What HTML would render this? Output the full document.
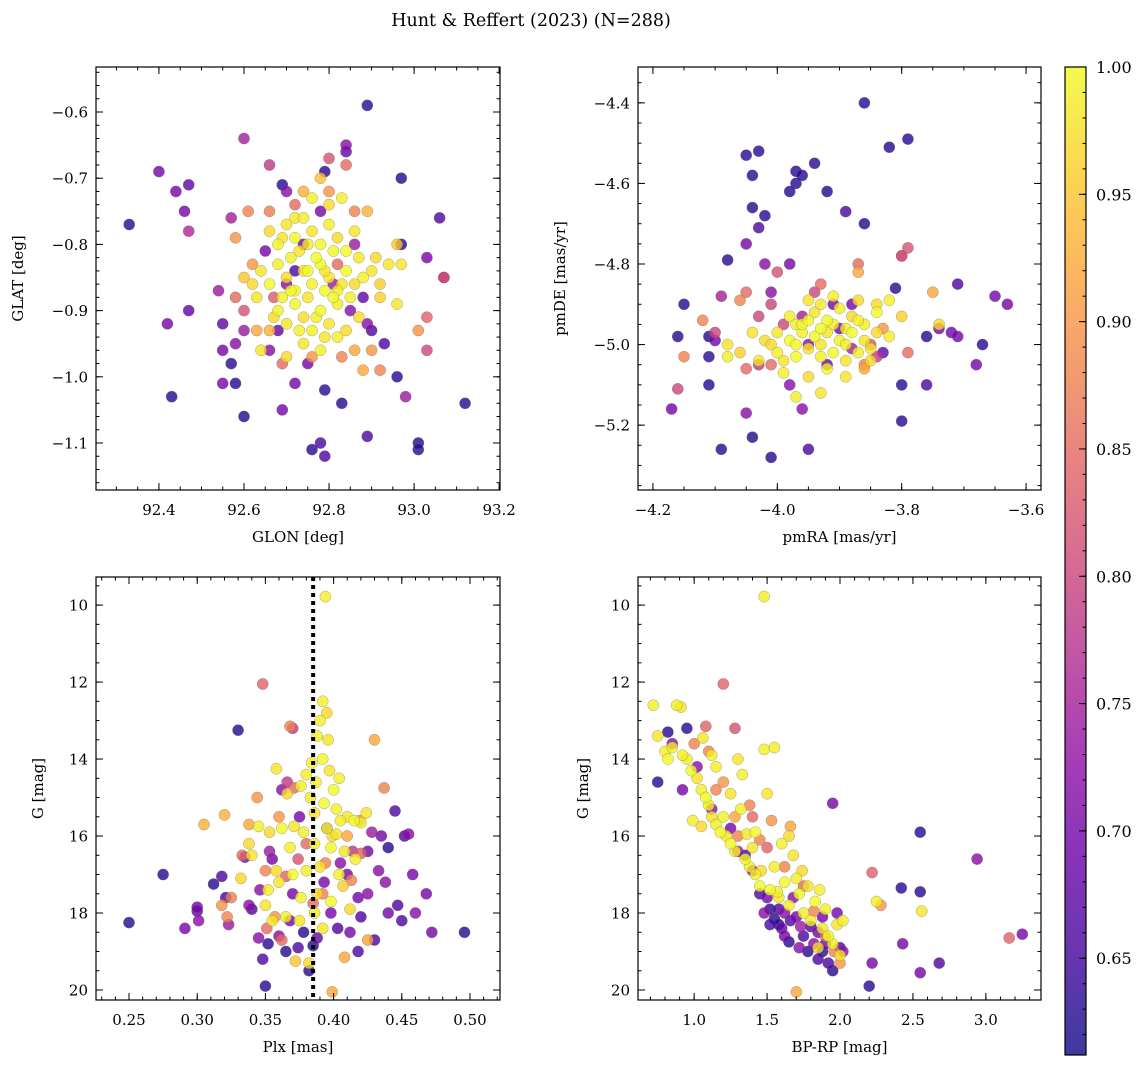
<!DOCTYPE html>
<html><head><meta charset="utf-8">
<style>
html,body{margin:0;padding:0;background:#fff;}
svg{display:block;font-family:"DejaVu Serif","Liberation Serif",serif;}
</style></head>
<body>
<svg id="fig" width="1148" height="1067" viewBox="0 0 1148 1067" xmlns="http://www.w3.org/2000/svg">
<rect width="1148" height="1067" fill="#fff"/>
<text x="531" y="26" font-size="17.5" text-anchor="middle">Hunt &amp; Reffert (2023) (N=288)</text>
<defs>
<linearGradient id="cbg" x1="0" y1="1" x2="0" y2="0">
<stop offset="0" stop-color="#0d0887"/><stop offset="0.1" stop-color="#41049d"/><stop offset="0.2" stop-color="#6a00a8"/><stop offset="0.3" stop-color="#8f0da4"/><stop offset="0.4" stop-color="#b12a90"/><stop offset="0.5" stop-color="#cc4778"/><stop offset="0.6" stop-color="#e16462"/><stop offset="0.7" stop-color="#f2844b"/><stop offset="0.8" stop-color="#fca636"/><stop offset="0.9" stop-color="#fcce25"/><stop offset="1" stop-color="#f0f921"/>
</linearGradient>
</defs>
</svg>
<script>
// ---- data: [x, y, membership probability] ----
const glonGlat = [
[92.33,-0.77,0.63],[92.40,-0.69,0.70],[92.44,-0.72,0.70],[92.46,-0.75,0.70],[92.47,-0.71,0.68],[92.47,-0.78,0.76],[92.42,-0.92,0.70],[92.47,-0.90,0.68],[92.43,-1.03,0.63],[92.54,-0.87,0.74],[92.57,-0.76,0.75],[92.55,-0.92,0.68],[92.55,-0.96,0.70],[92.55,-1.01,0.70],[92.57,-0.98,0.63],[92.58,-1.01,0.63],[92.58,-0.95,0.72],[92.60,-0.64,0.75],[92.60,-1.06,0.63],[92.60,-0.93,0.74],[92.66,-0.68,0.78],[92.69,-0.71,0.63],[92.69,-1.05,0.70],[92.72,-1.01,0.70],[92.76,-1.11,0.63],[92.78,-1.10,0.66],[92.79,-1.12,0.66],[92.79,-1.02,0.63],[92.83,-1.04,0.63],[92.84,-0.65,0.72],[92.84,-0.66,0.68],[92.79,-0.69,0.63],[92.89,-0.59,0.63],[92.97,-0.70,0.63],[92.97,-0.80,0.63],[92.96,-1.00,0.63],[92.98,-1.03,0.74],[92.89,-1.09,0.66],[93.01,-1.10,0.63],[93.01,-1.11,0.63],[93.06,-0.76,0.66],[93.03,-0.82,0.70],[93.07,-0.85,0.70],[93.07,-0.85,0.82],[93.03,-0.91,0.84],[93.03,-0.96,0.80],[93.01,-0.93,0.90],[93.12,-1.04,0.63],[92.96,-0.89,0.98],[92.97,-0.83,0.98],[92.92,-0.88,0.96],[92.90,-0.93,0.66],[92.93,-0.95,0.66],[92.88,-0.99,0.92],[92.89,-0.75,0.93],[92.80,-0.72,0.90],
[92.66,-0.78,0.97],[92.68,-0.80,0.99],[92.70,-0.77,0.98],[92.72,-0.79,1.0],[92.74,-0.76,0.99],[92.76,-0.78,0.98],[92.78,-0.80,1.0],[92.80,-0.77,0.99],[92.82,-0.79,0.97],[92.84,-0.81,1.0],[92.86,-0.78,0.98],[92.76,-0.73,0.99],[92.80,-0.74,0.97],[92.83,-0.73,0.99],[92.78,-0.70,0.95],[92.74,-0.72,0.93],
[92.64,-0.84,0.98],[92.66,-0.86,1.0],[92.68,-0.83,0.99],[92.70,-0.85,0.97],[92.72,-0.87,1.0],[92.74,-0.84,0.98],[92.76,-0.86,0.99],[92.78,-0.83,1.0],[92.80,-0.85,0.98],[92.82,-0.87,0.99],[92.84,-0.84,1.0],[92.86,-0.86,0.97],[92.88,-0.85,0.99],[92.90,-0.84,0.98],[92.92,-0.86,0.96],[92.62,-0.86,0.97],[92.60,-0.85,0.95],
[92.68,-0.90,0.99],[92.70,-0.92,0.98],[92.72,-0.89,1.0],[92.74,-0.91,0.97],[92.76,-0.93,0.99],[92.78,-0.90,1.0],[92.80,-0.92,0.98],[92.82,-0.89,0.99],[92.84,-0.93,0.97],[92.74,-0.95,0.98],[92.78,-0.96,0.99],[92.70,-0.97,0.97],[92.66,-0.93,0.93],[92.64,-0.96,0.98],[92.82,-0.94,0.99],
[92.73,-0.81,0.98],[92.77,-0.82,1.0],[92.69,-0.88,0.99],[92.81,-0.88,1.0],[92.75,-0.88,0.98],[92.79,-0.87,1.0],[92.71,-0.82,0.99],[92.87,-0.82,0.98],[92.91,-0.82,0.97],[92.94,-0.83,0.98],[92.96,-0.80,0.95],
[92.75,-0.80,0.99],[92.79,-0.84,0.98],[92.71,-0.87,1.0],[92.77,-0.91,0.99],[92.83,-0.86,0.98],[92.73,-0.93,0.99],[92.81,-0.81,1.0],[92.69,-0.79,0.98],[92.85,-0.88,0.99],[92.67,-0.91,0.97],[92.79,-0.94,0.98],[92.87,-0.91,0.97],[92.75,-0.84,1.0],[92.72,-0.76,0.98],[92.63,-0.88,0.98],
[92.58,-0.79,0.90],[92.61,-0.75,0.88],[92.66,-0.75,0.87],[92.62,-0.83,0.90],[92.63,-0.93,0.92],[92.58,-0.88,0.85],[92.60,-0.90,0.82],[92.72,-0.74,0.85],[92.80,-0.67,0.82],[92.84,-0.68,0.85],[92.86,-0.75,0.88],[92.69,-0.98,0.85],[92.76,-0.97,0.90],[92.83,-0.97,0.88],[92.86,-0.96,0.92],[92.90,-0.96,0.90],[92.67,-0.88,0.83],[92.82,-0.83,0.85],[92.92,-0.99,0.88],
[92.70,-0.86,0.72],[92.74,-0.80,0.70],[92.78,-0.75,0.70],[92.81,-0.86,0.74],[92.85,-0.90,0.72],[92.68,-0.93,0.68],[92.75,-0.98,0.70],[92.86,-0.80,0.74],[92.65,-0.81,0.70],[92.70,-0.72,0.72],[92.66,-0.96,0.72],[92.88,-0.88,0.68],[92.89,-0.92,0.72],[92.72,-0.84,0.66]
];
const pmraPmde = [
[-3.86,-4.40,0.63],[-3.79,-4.49,0.63],[-3.82,-4.51,0.63],[-4.05,-4.53,0.63],[-4.03,-4.52,0.63],[-4.04,-4.58,0.63],[-3.97,-4.57,0.63],[-3.97,-4.60,0.63],[-3.98,-4.62,0.63],[-3.96,-4.58,0.63],[-3.94,-4.55,0.63],[-3.92,-4.62,0.63],[-3.89,-4.67,0.66],[-3.86,-4.70,0.63],[-4.04,-4.66,0.63],[-4.02,-4.68,0.63],[-4.03,-4.71,0.66],[-4.05,-4.75,0.70],[-4.08,-4.79,0.63],[-4.15,-4.90,0.63],[-4.16,-4.98,0.63],[-4.17,-5.16,0.70],[-4.16,-5.11,0.80],[-4.11,-4.98,0.63],[-4.11,-5.03,0.63],[-4.09,-5.26,0.63],[-4.11,-5.10,0.63],[-4.04,-5.23,0.63],[-4.01,-5.28,0.63],[-3.95,-5.26,0.66],[-3.96,-5.16,0.72],[-4.03,-5.05,0.78],[-4.05,-5.17,0.72],[-3.80,-5.19,0.63],[-3.80,-5.10,0.63],[-3.76,-5.10,0.66],[-3.76,-4.98,0.63],[-3.74,-4.96,0.70],[-3.72,-4.97,0.70],[-3.71,-4.98,0.70],[-3.68,-5.05,0.70],[-3.67,-5.00,0.63],[-3.65,-4.88,0.70],[-3.63,-4.90,0.70],[-3.71,-4.85,0.66],[-3.81,-4.86,0.63],[-3.75,-4.87,0.92],[-3.79,-4.76,0.82],[-3.80,-4.78,0.82],[-3.80,-4.78,0.80],[-3.87,-4.80,0.85],[-3.87,-4.82,0.92],[-3.84,-5.03,0.78],[-3.79,-5.02,0.85],[-3.83,-4.96,0.90],[-4.15,-5.03,0.88],[-4.12,-4.94,0.88],[-4.10,-4.97,0.80],[-4.10,-4.99,0.70],[-4.06,-4.89,0.88],[-4.05,-4.87,0.85],[-4.09,-4.88,0.75],[-4.02,-4.80,0.72],[-4.01,-4.87,0.72],[-4.00,-4.82,0.82],[-3.98,-4.80,0.70],[-3.93,-4.85,0.85],[-3.88,-4.90,0.70],[-4.01,-4.90,0.80],
[-3.98,-4.93,0.99],[-3.96,-4.95,1.0],[-3.94,-4.92,0.98],[-3.92,-4.94,1.0],[-3.90,-4.91,0.99],[-3.88,-4.93,0.97],[-3.86,-4.95,0.99],[-3.84,-4.92,1.0],[-3.95,-4.89,0.98],[-3.91,-4.88,0.99],[-3.87,-4.89,0.97],
[-4.00,-4.97,0.98],[-3.98,-4.99,1.0],[-3.96,-4.97,0.99],[-3.94,-4.98,1.0],[-3.92,-4.97,0.98],[-3.90,-4.99,0.99],[-3.88,-4.97,1.0],[-3.86,-4.99,0.98],[-3.84,-4.97,0.97],[-3.82,-4.98,0.99],[-4.02,-4.99,0.97],[-4.04,-4.97,0.98],
[-4.00,-5.02,0.99],[-3.97,-5.03,1.0],[-3.95,-5.01,0.98],[-3.93,-5.03,0.99],[-3.91,-5.02,1.0],[-3.89,-5.04,0.98],[-3.87,-5.02,0.99],[-3.85,-5.04,0.97],[-4.03,-5.04,0.98],[-4.06,-5.02,0.96],[-4.08,-5.00,0.98],
[-3.99,-5.07,0.99],[-3.95,-5.08,0.97],[-3.92,-5.06,1.0],[-3.89,-5.08,0.98],[-3.93,-5.12,0.98],[-3.97,-5.13,0.99],[-3.84,-4.90,0.97],[-3.80,-4.93,0.96],[-3.86,-5.06,0.92],
[-4.08,-5.03,0.99],[-3.74,-4.95,0.97],[-3.82,-4.89,0.99],[-3.93,-4.96,1.0],[-3.97,-4.95,0.99],[-3.89,-4.96,0.99],
[-3.95,-4.94,1.0],[-3.91,-4.95,0.99],[-3.93,-5.00,0.98],[-3.97,-5.00,1.0],[-3.89,-5.00,0.99],[-3.99,-5.04,0.98],[-3.87,-4.94,0.99],[-3.93,-4.90,0.98],[-4.01,-5.00,0.97],[-3.85,-5.01,0.98],
[-3.99,-4.95,0.80],[-3.95,-5.00,0.72],[-3.90,-4.96,0.70],[-3.96,-4.93,0.75],[-3.85,-5.00,0.82],[-3.92,-5.05,0.70],[-4.01,-5.05,0.85],[-3.88,-5.01,0.75],[-3.91,-4.90,0.70],[-4.03,-4.93,0.80],[-3.86,-5.05,0.88],[-3.98,-5.10,0.72],[-4.05,-5.06,0.85],[-3.83,-5.02,0.68],[-3.94,-4.87,0.80]
];
const plxG = [
[0.250,18.25,0.63],[0.275,17.0,0.63],[0.291,18.4,0.70],[0.300,17.85,0.70],[0.300,17.95,0.68],[0.301,18.2,0.72],[0.312,17.25,0.63],[0.318,17.05,0.66],[0.321,17.6,0.66],[0.330,13.25,0.63],[0.323,18.3,0.74],[0.335,16.55,0.70],[0.340,17.9,0.66],[0.345,18.65,0.72],[0.348,19.2,0.66],[0.350,19.9,0.63],[0.352,18.8,0.63],[0.355,16.6,0.70],[0.360,18.6,0.72],[0.365,19.0,0.63],[0.368,18.2,0.70],[0.370,17.5,0.70],[0.374,18.9,0.66],[0.378,18.5,0.63],[0.382,19.5,0.63],[0.385,18.85,0.63],[0.388,18.65,0.68],[0.393,17.2,0.70],[0.398,18.0,0.70],[0.403,18.4,0.66],[0.410,17.0,0.70],[0.412,18.5,0.70],[0.418,17.6,0.70],[0.420,18.1,0.66],[0.425,17.5,0.72],[0.430,18.7,0.66],[0.435,16.0,0.70],[0.438,17.2,0.72],[0.440,18.0,0.70],[0.445,15.35,0.66],[0.447,17.8,0.66],[0.450,18.2,0.66],[0.452,16.0,0.66],[0.455,15.95,0.72],[0.458,17.0,0.70],[0.460,18.0,0.72],[0.468,17.5,0.70],[0.472,18.5,0.70],[0.496,18.5,0.63],[0.440,16.3,0.63],[0.425,16.4,0.70],[0.414,16.4,0.78],[0.405,16.7,0.72],[0.395,15.8,0.74],[0.375,15.5,0.70],[0.362,14.8,0.72],[0.353,16.4,0.74],[0.346,17.4,0.72],[0.338,17.8,0.72],[0.370,13.2,0.78],[0.366,14.6,0.78],[0.428,15.9,0.74],[0.433,16.9,0.72],[0.418,19.0,0.66],
[0.348,12.05,0.84],[0.305,15.7,0.93],[0.320,15.45,0.93],[0.325,17.6,0.88],[0.318,17.8,0.90],[0.322,18.1,0.88],[0.333,16.5,0.85],[0.338,15.7,0.92],[0.344,15.0,0.90],[0.351,18.4,0.85],[0.357,18.1,0.90],[0.362,18.7,0.85],[0.365,17.05,0.84],[0.368,13.15,0.88],[0.371,14.75,0.85],[0.380,16.2,0.85],[0.392,17.5,0.88],[0.399,20.05,0.92],[0.408,19.15,0.92],[0.413,17.15,0.88],[0.420,16.45,0.84],[0.425,18.7,0.92],[0.430,13.5,0.92],[0.437,14.75,0.88],[0.419,15.6,0.90],[0.410,16.0,0.92],[0.360,15.5,0.90],[0.350,16.9,0.88],[0.385,17.75,0.85],[0.374,16.6,0.82],[0.394,16.7,0.88],
[0.394,9.78,0.99],[0.392,12.5,0.99],[0.395,12.8,0.97],[0.388,13.4,0.99],[0.396,13.5,0.98],[0.392,14.0,1.0],[0.384,14.1,0.99],[0.397,14.3,0.98],[0.387,14.6,0.99],[0.400,14.8,1.0],[0.358,14.25,0.98],[0.376,14.7,0.99],[0.383,15.0,0.98],[0.393,15.15,1.0],[0.402,15.3,0.99],[0.410,15.5,0.98],[0.415,15.6,1.0],[0.420,15.65,0.99],[0.424,15.4,0.98],[0.405,15.6,0.99],[0.395,15.8,1.0],[0.378,15.9,0.99],[0.371,15.75,0.98],[0.362,15.8,1.0],[0.353,15.9,0.97],[0.345,15.75,0.99],[0.386,16.2,0.99],[0.398,16.3,1.0],[0.408,16.4,0.98],[0.416,16.6,0.99],[0.390,16.8,0.98],[0.380,16.9,0.99],[0.370,17.0,1.0],[0.360,17.2,0.98],[0.352,17.4,0.99],[0.340,16.5,0.98],[0.376,17.6,0.99],[0.388,17.5,0.97],[0.398,17.7,1.0],[0.350,17.8,0.98],[0.365,18.1,0.99],[0.375,18.2,0.98],[0.386,18.0,0.99],[0.355,18.2,0.98],[0.332,17.1,0.97],[0.338,16.2,0.97],[0.402,15.95,0.98],[0.407,17.3,0.96],[0.412,17.9,0.97],[0.372,19.25,0.95],[0.382,19.3,0.97],[0.366,14.9,0.97],[0.380,14.4,0.99],[0.404,14.5,0.99],[0.399,16.0,0.97],
[0.390,13.0,0.99],[0.386,15.4,0.98],[0.368,16.3,0.99],[0.392,18.4,0.98],[0.358,16.9,0.97],[0.404,17.0,0.99]
];
const bprpG = [
[0.72,12.6,0.99],[0.75,13.4,0.98],[0.80,13.8,0.99],[0.82,14.0,1.0],[0.85,13.7,0.99],[0.88,12.6,0.99],[0.91,12.65,0.98],[0.95,14.0,0.99],[0.98,14.3,1.0],[0.99,15.6,0.99],[1.02,14.5,0.98],[1.05,14.8,0.99],[1.08,15.0,1.0],[1.10,15.2,0.99],[1.12,15.5,0.98],[1.15,15.7,0.99],[1.18,15.9,1.0],[1.20,15.5,0.99],[1.22,16.0,0.98],[1.25,16.2,1.0],[1.28,16.4,0.99],[1.30,14.0,0.98],[1.33,14.4,0.99],[1.35,16.6,1.0],[1.38,16.8,0.99],[1.40,16.3,0.98],[1.42,17.0,0.99],[1.45,17.3,1.0],[1.48,13.75,0.99],[1.50,14.9,0.98],[1.52,17.4,1.0],[1.55,13.7,0.99],[1.58,17.6,0.98],[1.60,16.2,0.99],[1.62,17.2,1.0],[1.65,17.8,0.99],[1.68,16.5,0.98],[1.70,17.1,0.99],[1.72,17.5,1.0],[1.75,18.0,0.99],[1.78,17.3,0.98],[1.80,18.2,0.99],[1.83,17.7,1.0],[1.86,17.4,0.99],[1.88,18.4,0.98],[1.90,17.9,0.99],[1.92,18.6,1.0],[1.95,18.8,0.99],[1.98,18.3,0.98],[2.02,18.2,0.99],[2.00,19.1,0.98],[2.25,17.7,0.99],[2.56,17.95,0.98],[1.48,9.78,0.99],[1.05,15.75,0.97],[1.15,14.2,0.99],[1.25,14.9,0.98],[1.32,15.3,0.99],[1.42,15.9,1.0],[1.55,16.8,0.99],[1.65,16.0,0.97],[1.36,15.95,0.98],[1.06,13.45,0.98],[1.12,13.9,0.99],[0.92,13.9,0.99],[1.46,16.9,0.97],[1.57,17.45,0.99],[1.74,16.9,0.97],[1.85,18.9,0.97],
[1.20,12.05,0.84],[1.08,13.15,0.84],[1.10,13.8,0.88],[1.28,13.2,0.82],[1.00,13.6,0.88],[1.15,14.8,0.88],[1.20,14.6,0.90],[1.28,15.5,0.92],[1.40,15.5,0.85],[1.45,16.1,0.88],[1.53,15.6,0.90],[1.62,16.8,0.88],[1.66,15.75,0.92],[1.75,17.3,0.85],[1.82,17.95,0.88],[1.90,18.6,0.85],[1.96,19.0,0.88],[2.00,19.3,0.90],[2.22,16.95,0.84],[2.28,17.8,0.90],[3.16,18.65,0.84],[1.70,20.05,0.92],[1.38,15.2,0.88],[1.50,16.3,0.84],[1.30,16.0,0.88],
[0.75,14.6,0.63],[0.82,13.3,0.63],[0.85,13.6,0.72],[0.95,13.2,0.63],[0.92,14.8,0.70],[1.02,14.2,0.72],[1.12,15.3,0.72],[1.25,15.8,0.70],[1.35,16.5,0.66],[1.45,17.5,0.66],[1.52,17.9,0.63],[1.55,18.15,0.63],[1.60,18.4,0.68],[1.65,18.75,0.63],[1.70,18.1,0.70],[1.75,18.6,0.66],[1.78,19.0,0.63],[1.85,18.5,0.70],[1.88,19.0,0.63],[1.92,19.3,0.66],[1.95,19.5,0.63],[2.00,18.9,0.66],[1.98,18.0,0.70],[1.82,18.8,0.72],[1.68,17.6,0.72],[1.58,17.9,0.66],[1.48,18.0,0.72],[1.95,15.15,0.70],[2.20,19.9,0.63],[2.22,19.3,0.70],[2.43,18.8,0.70],[2.42,17.35,0.63],[2.55,17.45,0.63],[2.55,15.9,0.63],[2.55,19.55,0.70],[2.68,19.3,0.66],[2.94,16.6,0.72],[3.25,18.55,0.70],[1.40,16.9,0.72],[1.62,18.0,0.72],[1.73,18.35,0.74],[1.88,18.1,0.70],[1.30,16.4,0.74],
[1.50,17.6,0.70],[1.58,18.3,0.63],[1.66,18.2,0.66],[1.72,18.9,0.72],[1.80,18.35,0.66],[1.90,18.8,0.70],[1.52,18.3,0.66],[1.62,18.6,0.70],[1.85,19.2,0.66],[2.02,19.0,0.72]
];
const plxCut = [0.385];
const cbTicks = [0.65,0.70,0.75,0.80,0.85,0.90,0.95,1.00];
const pRange = [0.612, 1.0];

const NS = "http://www.w3.org/2000/svg";
const svg = document.getElementById('fig');
function mk(tag, attrs, parent){const e=document.createElementNS(NS,tag);for(const k in attrs)e.setAttribute(k,attrs[k]);(parent||svg).appendChild(e);return e;}

const stops=[[13,8,135],[65,4,157],[106,0,168],[143,13,164],[177,42,144],[204,71,120],[225,100,98],[242,132,75],[252,166,54],[252,206,37],[240,249,33]];
function plasma(t){t=Math.max(0,Math.min(1,t));const f=t*10,i=Math.min(9,Math.floor(f)),u=f-i;const a=stops[i],b=stops[i+1];return 'rgb('+a.map((v,k)=>Math.round(v+(b[k]-v)*u)).join(',')+')';}
function fmt(v,d){return (v<0?'\u2212':'')+Math.abs(v).toFixed(d);}

function panel(cfg){
  const g=mk('g',{});
  
  
  const sx=v=>cfg.x0+(v-cfg.xmin)/(cfg.xmax-cfg.xmin)*(cfg.x1-cfg.x0);
  const sy=v=>cfg.y0+(v-cfg.ytop)/(cfg.ybot-cfg.ytop)*(cfg.y1-cfg.y0);
  const pts=cfg.data.slice().sort((a,b)=>a[2]-b[2]);
  const pg=mk('g',{},g);
  
  
  pts.forEach(d=>{
    const c=mk('circle',{cx:sx(d[0]).toFixed(1),cy:sy(d[1]).toFixed(1),r:5.6,fill:plasma((d[2]-pRange[0])/(pRange[1]-pRange[0])),'fill-opacity':0.8,stroke:'#666','stroke-width':0.4,'stroke-opacity':0.7},pg);
    
    
  });
  if(cfg.vline){
    const l=mk('line',{x1:sx(cfg.vline),x2:sx(cfg.vline),y1:cfg.y0,y2:cfg.y1,stroke:'#000','stroke-width':4,'stroke-dasharray':'4 4'},g);
    
    
  }
  const tg=mk('g',{stroke:'#000','stroke-width':1},g);
  function eachTick(min,max,step,fn){const n0=Math.ceil(min/step-1e-6),n1=Math.floor(max/step+1e-6);for(let n=n0;n<=n1;n++)fn(+(n*step).toFixed(6));}
  const lo=Math.min(cfg.ytop,cfg.ybot),hi=Math.max(cfg.ytop,cfg.ybot);
  eachTick(cfg.xmin,cfg.xmax,cfg.xminor,v=>{const x=sx(v);mk('line',{x1:x,x2:x,y1:cfg.y1,y2:cfg.y1-3.5},tg);mk('line',{x1:x,x2:x,y1:cfg.y0,y2:cfg.y0+3.5},tg);});
  eachTick(lo,hi,cfg.yminor,v=>{const y=sy(v);mk('line',{x1:cfg.x0,x2:cfg.x0+3.5,y1:y,y2:y},tg);mk('line',{x1:cfg.x1,x2:cfg.x1-3.5,y1:y,y2:y},tg);});
  eachTick(cfg.xmin,cfg.xmax,cfg.xmajor,v=>{const x=sx(v);mk('line',{x1:x,x2:x,y1:cfg.y1,y2:cfg.y1-7},tg);mk('line',{x1:x,x2:x,y1:cfg.y0,y2:cfg.y0+7},tg);
    const t=mk('text',{x:x,y:cfg.y1+25,'font-size':15,'text-anchor':'middle'},g);t.textContent=fmt(v,cfg.xdec);
    
    });
  eachTick(lo,hi,cfg.ymajor,v=>{const y=sy(v);mk('line',{x1:cfg.x0,x2:cfg.x0+7,y1:y,y2:y},tg);mk('line',{x1:cfg.x1,x2:cfg.x1-7,y1:y,y2:y},tg);
    const t=mk('text',{x:cfg.x0-8,y:y+5.5,'font-size':15,'text-anchor':'end'},g);t.textContent=fmt(v,cfg.ydec);
    
    });
  const fr=mk('rect',{x:cfg.x0,y:cfg.y0,width:cfg.x1-cfg.x0,height:cfg.y1-cfg.y0,fill:'none',stroke:'#000','stroke-width':1.2},g);
  
  
  const xl=mk('text',{x:(cfg.x0+cfg.x1)/2,y:cfg.y1+52,'font-size':15,'text-anchor':'middle'},g);xl.textContent=cfg.xlabel;
  
  
  const yx=cfg.ylabx, yy=(cfg.y0+cfg.y1)/2;
  const yl=mk('text',{x:yx,y:yy,'font-size':15,'text-anchor':'middle',transform:'rotate(-90 '+yx+' '+yy+')'},g);yl.textContent=cfg.ylabel;
  
  
}

panel({name:'glon-glat-panel',data:glonGlat,x0:96,x1:500,y0:67,y1:490,xmin:92.252,xmax:93.202,ytop:-0.532,ybot:-1.171,xmajor:0.2,xminor:0.05,ymajor:0.1,yminor:0.02,xdec:1,ydec:1,xlabel:'GLON [deg]',ylabel:'GLAT [deg]',ylabx:23});
panel({name:'pm-panel',data:pmraPmde,x0:638,x1:1041,y0:67,y1:490,xmin:-4.224,xmax:-3.576,ytop:-4.311,ybot:-5.361,xmajor:0.2,xminor:0.05,ymajor:0.2,yminor:0.05,xdec:1,ydec:1,xlabel:'pmRA [mas/yr]',ylabel:'pmDE [mas/yr]',ylabx:565});
panel({name:'plx-g-panel',data:plxG,vline:plxCut[0],x0:96,x1:500,y0:577,y1:1000,xmin:0.2258,xmax:0.522,ytop:9.27,ybot:20.26,xmajor:0.05,xminor:0.01,ymajor:2,yminor:0.5,xdec:2,ydec:0,xlabel:'Plx [mas]',ylabel:'G [mag]',ylabx:43});
panel({name:'cmd-panel',data:bprpG,x0:638,x1:1041,y0:577,y1:1000,xmin:0.615,xmax:3.378,ytop:9.27,ybot:20.26,xmajor:0.5,xminor:0.1,ymajor:2,yminor:0.5,xdec:1,ydec:0,xlabel:'BP-RP [mag]',ylabel:'G [mag]',ylabx:588});

const cb=mk('g',{});


const cx0=1065,cx1=1086,cy0=67,cy1=1055;
const cs=v=>cy1-(v-pRange[0])/(pRange[1]-pRange[0])*(cy1-cy0);
mk('rect',{x:cx0,y:cy0,width:cx1-cx0,height:cy1-cy0,fill:'url(#cbg)','fill-opacity':0.8},cb);
for(let v=0.62;v<1.0001;v+=0.01){const y=cs(v);mk('line',{x1:cx1,x2:cx1-3.5,y1:y,y2:y,stroke:'#000'},cb);}
cbTicks.forEach(v=>{const y=cs(v);mk('line',{x1:cx1,x2:cx1-7,y1:y,y2:y,stroke:'#000'},cb);
  const t=mk('text',{x:cx1+10,y:y+6,'font-size':16},cb);t.textContent=v.toFixed(2);
  
  });
mk('rect',{x:cx0,y:cy0,width:cx1-cx0,height:cy1-cy0,fill:'none',stroke:'#000','stroke-width':1.2},cb);
</script>
</body></html>
